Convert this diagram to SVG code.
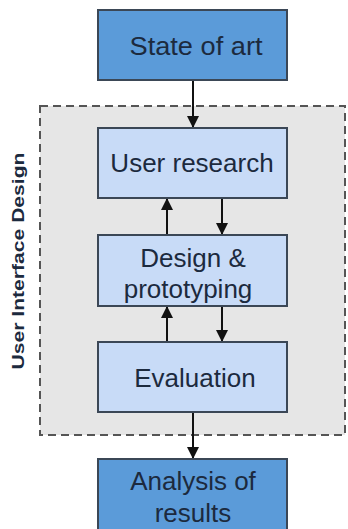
<svg xmlns="http://www.w3.org/2000/svg" width="348" height="529" viewBox="0 0 348 529">
<defs>
<style>
.dark{fill:#5b9bd9;stroke:#3b4756;stroke-width:2}
.light{fill:#c8dbf7;stroke:#3b4756;stroke-width:2}
.t{font-family:"Liberation Sans",Arial,sans-serif;font-size:26px;fill:#1c2a3e;text-anchor:middle}
.c{stroke:#111;stroke-width:2;fill:none}
</style>
<marker id="ah" viewBox="0 0 12 12" refX="12" refY="6" markerWidth="12" markerHeight="12" markerUnits="userSpaceOnUse" orient="auto">
<path d="M0,0 L12,6 L0,12 Z" fill="#111"/>
</marker>
</defs>
<rect width="348" height="529" fill="#ffffff"/>
<g id="uid-group">
<rect x="40" y="106" width="305" height="329" fill="#e6e6e6" stroke="#555" stroke-width="2" stroke-dasharray="8,5"/>
<text transform="translate(24,261) rotate(-90)" font-family="'Liberation Sans',Arial,sans-serif" font-size="17" font-weight="bold" fill="#1c2a3e" text-anchor="middle" textLength="217" lengthAdjust="spacingAndGlyphs">User Interface Design</text>
</g>
<g id="connectors">
<line class="c" x1="193" y1="80" x2="193" y2="128" marker-end="url(#ah)"/>
<line class="c" x1="167" y1="235" x2="167" y2="198" marker-end="url(#ah)"/>
<line class="c" x1="222" y1="198" x2="222" y2="235" marker-end="url(#ah)"/>
<line class="c" x1="167" y1="342" x2="167" y2="306" marker-end="url(#ah)"/>
<line class="c" x1="222" y1="306" x2="222" y2="342" marker-end="url(#ah)"/>
<line class="c" x1="193" y1="412" x2="193" y2="459" marker-end="url(#ah)"/>
</g>
<g id="state-of-art">
<rect class="dark" x="98" y="10" width="189" height="70"/>
<text class="t" x="196" y="55" textLength="133" lengthAdjust="spacingAndGlyphs">State of art</text>
</g>
<g id="user-research">
<rect class="light" x="98" y="128" width="189" height="70"/>
<text class="t" x="192" y="172">User research</text>
</g>
<g id="design-prototyping">
<rect class="light" x="98" y="235" width="189" height="71"/>
<text class="t" x="193" y="267">Design &amp;</text>
<text class="t" x="188" y="298">prototyping</text>
</g>
<g id="evaluation">
<rect class="light" x="98" y="342" width="189" height="70"/>
<text class="t" x="195" y="387">Evaluation</text>
</g>
<g id="analysis">
<rect class="dark" x="98" y="459" width="189" height="80"/>
<text class="t" x="193" y="490">Analysis of</text>
<text class="t" x="193" y="522">results</text>
</g>
</svg>
